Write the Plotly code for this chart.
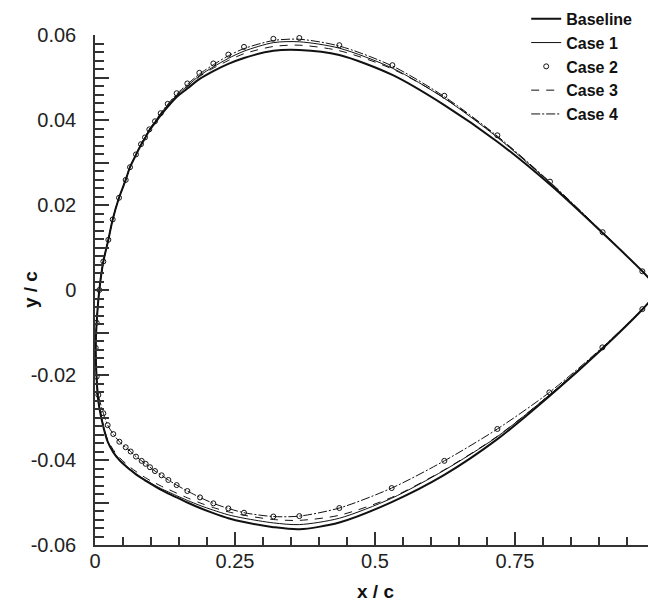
import plotly.graph_objects as go

# ---- upper surface stations (leading edge -> trailing edge) ----
x_upper = [0.0030, 0.0077, 0.0149, 0.0238, 0.0316, 0.0429, 0.0548, 0.0625, 0.0732, 0.0821,
           0.0893, 0.0970, 0.1071, 0.1173, 0.1298, 0.1458, 0.1649, 0.1863, 0.2113, 0.2381,
           0.2661, 0.3185, 0.3649, 0.4363, 0.5310, 0.6238, 0.7185, 0.8125, 0.9065, 0.9774, 1.0000]

baseline_upper = [-0.0077, 0.0000, 0.0067, 0.0118, 0.0166, 0.0217, 0.0259, 0.0289, 0.0318, 0.0341,
                  0.0357, 0.0375, 0.0393, 0.0411, 0.0431, 0.0454, 0.0474, 0.0496, 0.0515, 0.0532,
                  0.0546, 0.0563, 0.0565, 0.0553, 0.0506, 0.0435, 0.0349, 0.0248, 0.0134, 0.0044, 0.0012]
case1_upper = [-0.0077, 0.0000, 0.0067, 0.0118, 0.0166, 0.0217, 0.0259, 0.0289, 0.0319, 0.0343,
               0.0359, 0.0377, 0.0396, 0.0415, 0.0435, 0.0458, 0.0480, 0.0504, 0.0525, 0.0545,
               0.0562, 0.0582, 0.0584, 0.0569, 0.0522, 0.0451, 0.0359, 0.0252, 0.0135, 0.0044, 0.0012]
case2_upper = [-0.0077, 0.0000, 0.0067, 0.0118, 0.0166, 0.0217, 0.0259, 0.0289, 0.0319, 0.0343,
               0.0359, 0.0378, 0.0397, 0.0416, 0.0438, 0.0463, 0.0486, 0.0511, 0.0533, 0.0554,
               0.0572, 0.0591, 0.0593, 0.0576, 0.0529, 0.0457, 0.0364, 0.0255, 0.0136, 0.0044]
case3_upper = [-0.0077, 0.0000, 0.0067, 0.0118, 0.0166, 0.0217, 0.0259, 0.0289, 0.0319, 0.0343,
               0.0359, 0.0377, 0.0395, 0.0414, 0.0434, 0.0457, 0.0479, 0.0502, 0.0522, 0.0540,
               0.0556, 0.0573, 0.0576, 0.0563, 0.0520, 0.0452, 0.0361, 0.0253, 0.0135, 0.0044, 0.0012]
case4_upper = [-0.0077, 0.0000, 0.0067, 0.0118, 0.0166, 0.0217, 0.0259, 0.0289, 0.0319, 0.0343,
               0.0359, 0.0378, 0.0397, 0.0416, 0.0437, 0.0461, 0.0484, 0.0508, 0.0530, 0.0551,
               0.0568, 0.0587, 0.0590, 0.0574, 0.0527, 0.0455, 0.0362, 0.0254, 0.0136, 0.0044, 0.0012]

# ---- lower surface stations (leading edge -> trailing edge) ----
x_lower = [0.0012, 0.0030, 0.0060, 0.0149, 0.0226, 0.0327, 0.0435, 0.0548, 0.0637, 0.0732,
           0.0833, 0.0905, 0.0982, 0.1071, 0.1190, 0.1310, 0.1458, 0.1649, 0.1875, 0.2113,
           0.2381, 0.2661, 0.3185, 0.3649, 0.4363, 0.5298, 0.6238, 0.7185, 0.8113, 0.9060, 0.9774, 1.0000]

baseline_lower = [-0.0136, -0.0210, -0.0262, -0.0322, -0.0357, -0.0382, -0.0400, -0.0414, -0.0424, -0.0434,
                  -0.0443, -0.0449, -0.0455, -0.0462, -0.0471, -0.0479, -0.0488, -0.0500, -0.0513, -0.0525,
                  -0.0537, -0.0546, -0.0558, -0.0563, -0.0547, -0.0499, -0.0435, -0.0351, -0.0250, -0.0138, -0.0046, -0.0012]
case1_lower = [-0.0136, -0.0210, -0.0261, -0.0321, -0.0356, -0.0381, -0.0399, -0.0413, -0.0423, -0.0432,
               -0.0441, -0.0447, -0.0453, -0.0460, -0.0468, -0.0475, -0.0484, -0.0495, -0.0507, -0.0518,
               -0.0529, -0.0537, -0.0548, -0.0552, -0.0537, -0.0490, -0.0424, -0.0345, -0.0247, -0.0137, -0.0046, -0.0012]
case2_lower = [-0.0136, -0.0204, -0.0247, -0.0290, -0.0318, -0.0339, -0.0357, -0.0370, -0.0380, -0.0392,
               -0.0402, -0.0409, -0.0417, -0.0426, -0.0436, -0.0447, -0.0459, -0.0473, -0.0488, -0.0502,
               -0.0514, -0.0524, -0.0533, -0.0532, -0.0513, -0.0466, -0.0402, -0.0327, -0.0241, -0.0135, -0.0045]
case3_lower = [-0.0136, -0.0208, -0.0258, -0.0318, -0.0352, -0.0376, -0.0394, -0.0408, -0.0418, -0.0427,
               -0.0436, -0.0442, -0.0448, -0.0454, -0.0462, -0.0469, -0.0478, -0.0489, -0.0501, -0.0512,
               -0.0522, -0.0530, -0.0540, -0.0542, -0.0530, -0.0488, -0.0423, -0.0344, -0.0247, -0.0137, -0.0046, -0.0012]
case4_lower = [-0.0136, -0.0204, -0.0247, -0.0290, -0.0318, -0.0339, -0.0357, -0.0370, -0.0380, -0.0392,
               -0.0402, -0.0409, -0.0417, -0.0426, -0.0436, -0.0447, -0.0459, -0.0473, -0.0488, -0.0502,
               -0.0514, -0.0524, -0.0533, -0.0532, -0.0513, -0.0466, -0.0402, -0.0327, -0.0241, -0.0135, -0.0045, -0.0012]

y_tick_vals = [-0.06, -0.05, -0.04, -0.03, -0.02, -0.01, 0.0, 0.01, 0.02, 0.03, 0.04, 0.05, 0.06]
y_tick_text = ["-0.06", "", "-0.04", "", "-0.02", "", "0", "", "0.02", "", "0.04", "", "0.06"]
x_tick_vals = [0, 0.25, 0.5, 0.75, 1.0]
x_tick_text = ["0", "0.25", "0.5", "0.75", "1"]
x_title = "x / c"
y_title = "y / c"


def loop(xu, yu, xl, yl):
    return list(reversed(xu[:len(yu)])) + xl[:len(yl)], list(reversed(yu)) + yl


INK = "#111111"
fig = go.Figure()

bx, by = loop(x_upper, baseline_upper, x_lower, baseline_lower)
fig.add_trace(go.Scatter(x=bx, y=by, mode="lines", name="Baseline",
                         line=dict(color=INK, width=2, shape="spline", smoothing=0.8)))
c1x, c1y = loop(x_upper, case1_upper, x_lower, case1_lower)
fig.add_trace(go.Scatter(x=c1x, y=c1y, mode="lines", name="Case 1",
                         line=dict(color=INK, width=1, shape="spline", smoothing=0.8)))
c2x, c2y = loop(x_upper, case2_upper, x_lower, case2_lower)
fig.add_trace(go.Scatter(x=c2x, y=c2y, mode="markers", name="Case 2",
                         marker=dict(symbol="circle-open", size=5, color=INK,
                                     line=dict(width=1, color=INK))))
c3x, c3y = loop(x_upper, case3_upper, x_lower, case3_lower)
fig.add_trace(go.Scatter(x=c3x, y=c3y, mode="lines", name="Case 3",
                         line=dict(color=INK, width=1, dash="8px,7px", shape="spline", smoothing=0.8)))
c4x, c4y = loop(x_upper, case4_upper, x_lower, case4_lower)
fig.add_trace(go.Scatter(x=c4x, y=c4y, mode="lines", name="Case 4",
                         line=dict(color=INK, width=1, dash="9px,2px,2px,2px", shape="spline", smoothing=0.8)))

AX = "#333333"
# The page body has an 8px default margin, so the figure is sized to fill the rest.
fig.update_layout(
    width=648, height=595,
    margin=dict(l=87, r=1, t=27, b=58, autoexpand=False),
    paper_bgcolor="white", plot_bgcolor="white",
    font=dict(family="Liberation Sans, Arial, sans-serif", color="#222222", size=20),
    showlegend=True,
    legend=dict(x=0.77, xanchor="left", y=1.065, yanchor="top",
                bgcolor="rgba(0,0,0,0)", borderwidth=0,
                font=dict(family="Liberation Sans, Arial, sans-serif", size=16,
                          color="#111111", weight="bold"),
                itemwidth=30, tracegroupgap=0),
    xaxis=dict(range=[0, 1], tickvals=x_tick_vals, ticktext=x_tick_text, automargin=False,
               showgrid=False, zeroline=False, showline=True, linecolor=AX, linewidth=1.5,
               ticks="inside", ticklen=13, tickwidth=1.5, tickcolor=AX,
               minor=dict(dtick=0.05, ticks="inside", ticklen=8, tickwidth=1.5, tickcolor=AX,
                          showgrid=False),
               tickfont=dict(size=20), ticklabelstandoff=-3, ticklabeloverflow="allow"),
    yaxis=dict(range=[-0.06, 0.06], tickvals=y_tick_vals, ticktext=y_tick_text, automargin=False,
               showgrid=False, zeroline=False, showline=True, linecolor=AX, linewidth=1.5,
               ticks="inside", ticklen=14, tickwidth=1.5, tickcolor=AX,
               minor=dict(dtick=0.002, tick0=0, ticks="inside", ticklen=9, tickwidth=1.5,
                          tickcolor=AX, showgrid=False),
               tickfont=dict(size=20), ticklabelstandoff=13),
    annotations=[
        dict(text="<b>" + x_title + "</b>", xref="paper", yref="paper", x=0.5, y=-0.092,
             xanchor="center", yanchor="middle", showarrow=False,
             font=dict(size=19, color="#111111")),
        dict(text="<b>" + y_title + "</b>", xref="paper", yref="paper", x=-0.116, y=0.5,
             xanchor="center", yanchor="middle", showarrow=False, textangle=-90,
             font=dict(size=19, color="#111111")),
    ],
)

fig.write_html("out.html")
